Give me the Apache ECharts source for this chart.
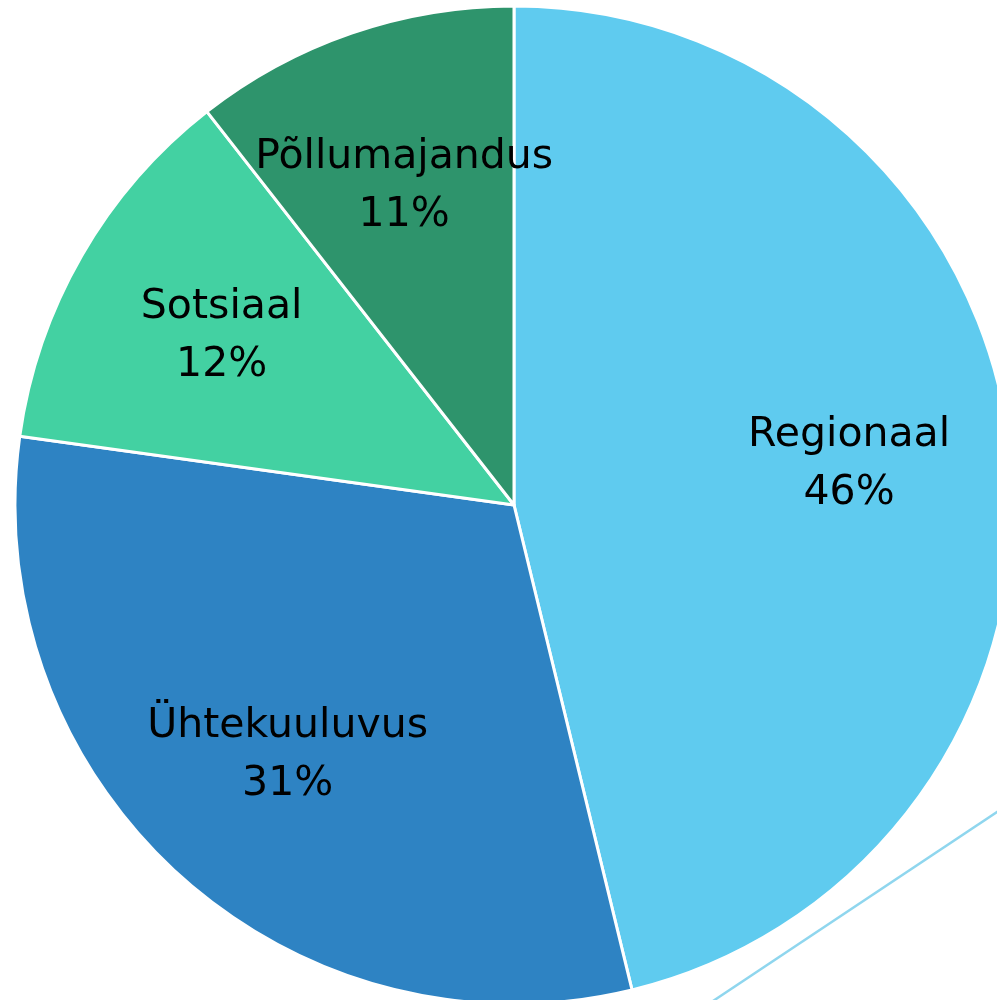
<!DOCTYPE html>
<html>
<head>
<meta charset="utf-8">
<script src="https://cdn.jsdelivr.net/npm/echarts@6/dist/echarts.min.js"></script>
<style>
html,body{margin:0;padding:0;background:#fff;}
#c{width:997px;height:1000px;}
</style>
</head>
<body>
<div id="c"></div>
<script>
const categories = ['Regionaal', 'Ühtekuuluvus', 'Sotsiaal', 'Põllumajandus'];
const values = [46.2, 31.0, 12.25, 10.55];
const colors = ['#5FCBEF', '#2E83C3', '#43D1A2', '#2E946C'];

const chart = echarts.init(document.getElementById('c'), null, {renderer: 'canvas'});
const baseData = categories.map((name, i) => ({name: name, value: values[i], itemStyle: {color: colors[i]}}));
const labelData = categories.map((name, i) => ({name: name, value: values[i]}));

chart.setOption({
  animation: false,
  backgroundColor: '#fff',
  graphic: [{
    type: 'line',
    shape: {x1: 713, y1: 1001, x2: 1000, y2: 810},
    style: {stroke: '#8FD6EE', lineWidth: 2.5},
    z: 0
  }],
  series: [
    {
      type: 'pie',
      center: [514, 505],
      radius: [0, 499],
      startAngle: 90,
      clockwise: true,
      silent: true,
      percentPrecision: 0,
      label: {show: false},
      labelLine: {show: false},
      itemStyle: {borderColor: '#fff', borderWidth: 3},
      data: baseData,
      z: 2
    },
    {
      type: 'pie',
      center: [514, 505],
      radius: [170, 499],
      startAngle: 90,
      clockwise: true,
      silent: true,
      percentPrecision: 0,
      itemStyle: {color: 'rgba(0,0,0,0)', borderWidth: 0},
      label: {
        show: true,
        position: 'inside',
        formatter: '{b}\n{d}%',
        fontFamily: 'DejaVu Sans',
        fontSize: 41,
        lineHeight: 58,
        color: '#000',
        align: 'center'
      },
      labelLine: {show: false},
      data: labelData,
      z: 3
    }
  ]
});
</script>
</body>
</html>
